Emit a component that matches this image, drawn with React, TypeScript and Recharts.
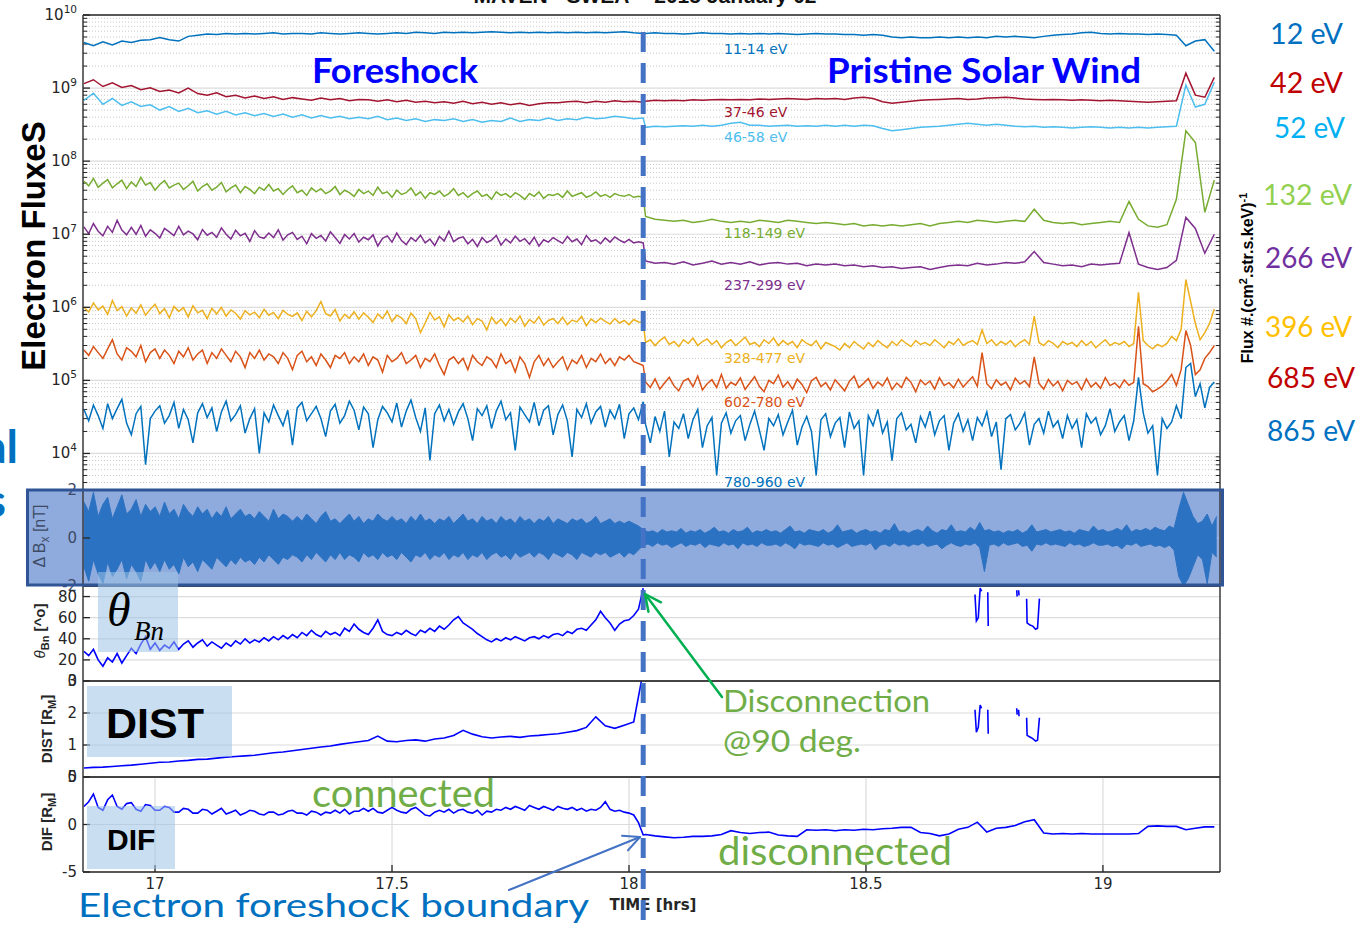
import React from 'react';
import { ComposedChart, Line, Area, XAxis, YAxis, CartesianGrid, ReferenceLine } from 'recharts';

const W = 1363;
const H = 925;
const PLOT_LEFT = 83;
const PLOT_RIGHT = 1220;
const T_START = 16.848;
const T_END = 19.247;
const X_TICKS = [17, 17.5, 18, 18.5, 19];
const BOUNDARY_T = 18.03;

const SANS = '"Liberation Sans", Arial, Helvetica, sans-serif';
const WIDE = '"DejaVu Sans", Verdana, sans-serif';
const CAL = 'Lato, "Open Sans", sans-serif';
const SERIF = '"Liberation Serif", "Times New Roman", serif';
const AXIS = '#262626';
const GRID = '#dcdcdc';

// sampling of the summary products (hrs)
const PRE_T0 = 16.85;
const POST_T0 = 18.035;
const DT = 0.02;
const DT_FINE = 0.01;

// ---- SWEA electron energy channels (pre- and post-boundary samples) ----
const F12_PRE = [
  4.2, 3.8, 4.3, 3.9, 4.4, 4.2, 4.5, 4.6, 4.9, 4.6,
  4.4, 5.1, 5.3, 5.5, 5.4, 5.6, 5.5, 5.6, 5.5, 5.6,
  5.7, 5.5, 5.6, 5.6, 5.5, 5.7, 5.6, 5.5, 5.6, 5.7,
  5.6, 5.5, 5.6, 5.7, 5.6, 5.8, 5.7, 5.6, 5.8, 5.7,
  5.8, 5.7, 5.8, 5.9, 5.8, 5.7, 5.8, 5.7, 5.8, 5.7,
  5.8, 5.7, 5.8, 5.7, 5.8, 5.7, 5.8, 5.9, 5.7, 5.6,
];
const F12_POST = [
  5.6, 5.7, 5.6, 5.6, 5.5, 5.6, 5.7, 5.6, 5.6, 5.5,
  5.6, 5.5, 5.6, 5.5, 5.6, 5.5, 5.4, 5.5, 5.6, 5.5,
  5.5, 5.4, 5.4, 5.3, 5.4, 5.3, 5.0, 4.9, 5.0, 4.9,
  4.9, 5.0, 4.9, 5.0, 4.9, 5.0, 4.9, 5.1, 5.0, 5.1,
  5.0, 4.9, 5.1, 5.3, 5.4, 5.5, 5.7, 5.8, 5.6, 5.5,
  5.6, 5.5, 5.5, 5.4, 5.5, 5.4, 5.3, 3.8, 4.4, 4.6,
  3.2,
];
const F42_PRE = [
  11.5, 13.0, 10.5, 11.8, 10.2, 10.8, 9.5, 10.1, 9.0, 9.4,
  8.6, 10.0, 8.4, 8.0, 8.6, 7.6, 8.0, 7.3, 7.8, 7.2,
  7.6, 7.0, 7.4, 7.1, 6.8, 7.3, 6.9, 7.2, 6.7, 7.0,
  6.9, 6.6, 6.9, 6.5, 6.8, 6.4, 6.6, 6.3, 6.5, 6.2,
  6.6, 6.1, 6.4, 6.0, 6.3, 5.9, 6.2, 5.8, 6.1, 6.3,
  6.3, 6.5, 6.6, 6.3, 6.6, 6.4, 6.7, 6.5, 6.6, 6.4,
];
const F42_POST = [
  6.6, 6.8, 6.7, 6.8, 6.7, 6.9, 6.8, 6.9, 7.0, 6.9,
  7.0, 6.9, 7.1, 7.0, 7.1, 7.2, 7.1, 7.0, 7.2, 7.1,
  7.2, 7.0, 7.3, 7.5, 7.2, 6.5, 6.2, 6.4, 6.6, 6.8,
  6.9, 7.0, 7.1, 7.2, 7.0, 7.1, 7.3, 7.4, 7.5, 7.3,
  7.1, 7.0, 6.9, 7.0, 6.9, 6.8, 6.9, 6.8, 6.7, 6.8,
  6.7, 6.6, 6.5, 6.4, 6.5, 6.6, 6.7, 16.0, 8.0, 7.5,
  14.0,
];
const F52_PRE = [
  6.8, 8.5, 6.0, 7.2, 5.8, 6.5, 5.6, 5.9, 5.0, 5.6,
  4.8, 5.3, 4.6, 4.9, 4.4, 4.8, 4.3, 4.6, 4.2, 4.5,
  4.1, 4.4, 4.0, 4.3, 3.9, 4.2, 3.9, 4.1, 3.8, 4.0,
  3.8, 4.1, 3.7, 3.9, 3.6, 3.8, 3.5, 3.7, 3.6, 3.8,
  3.5, 3.7, 3.4, 3.6, 3.5, 3.9, 3.5, 3.7, 3.6, 3.9,
  3.6, 3.8, 3.7, 4.0, 3.8, 3.9, 4.1, 4.0, 3.8, 3.9,
];
const F52_POST = [
  2.9, 3.0, 2.95, 3.0, 3.05, 3.0, 3.1, 3.0, 3.1, 3.3,
  3.4, 3.1, 3.1, 3.0, 3.05, 3.1, 3.0, 3.05, 3.0, 3.1,
  3.0, 3.1, 3.0, 3.1, 3.05, 2.8, 2.6, 2.7, 2.8, 2.9,
  2.95, 3.0, 3.1, 3.2, 3.3, 3.2, 3.1, 3.2, 3.1, 3.0,
  2.95, 3.0, 2.9, 2.95, 2.9, 2.85, 2.9, 2.95, 2.9, 2.85,
  2.9, 2.85, 2.9, 2.85, 2.9, 2.95, 3.0, 11.0, 5.5, 6.0,
  12.0,
];
// 118-149 eV: 0.01 h before the crossing, 0.02 h after
const F132_PRE = [
  5.3, 4.6, 5.8, 4.4, 5.0, 5.6, 4.3, 4.9, 5.5, 4.2,
  5.2, 4.5, 6.0, 4.7, 5.1, 4.0, 4.8, 5.4, 4.3, 4.7,
  5.0, 4.1, 4.6, 5.3, 3.9, 4.5, 4.9, 4.0, 4.4, 5.1,
  3.8, 4.3, 4.7, 3.7, 4.5, 4.1, 3.6, 4.4, 4.0, 4.8,
  3.9, 4.2, 3.5, 4.1, 4.6, 3.7, 4.0, 3.4, 4.3, 3.8,
  4.2, 3.6, 3.9, 4.5, 3.5, 4.0, 3.7, 3.3, 4.1, 3.6,
  3.9, 3.4, 4.4, 3.6, 3.8, 3.2, 4.0, 3.5, 3.7, 4.3,
  3.4, 3.8, 3.1, 3.7, 3.5, 3.9, 3.3, 3.6, 4.2, 3.4,
  3.7, 3.2, 3.6, 3.9, 3.3, 3.5, 3.0, 3.8, 3.4, 3.6,
  3.2, 3.7, 3.4, 3.0, 3.6, 3.3, 3.8, 3.1, 3.5, 3.4,
  3.6, 3.2, 3.9, 3.3, 3.5, 3.7, 3.2, 3.4, 3.8, 3.3,
  3.5, 3.2, 3.6, 3.4, 3.3, 3.5, 3.2, 3.3, 3.2,
];
const F132_POST = [
  1.75, 1.6, 1.55, 1.5, 1.55, 1.45, 1.5, 1.6, 1.5, 1.45,
  1.5, 1.45, 1.55, 1.5, 1.45, 1.55, 1.5, 1.45, 1.4, 1.45,
  1.4, 1.35, 1.4, 1.3, 1.35, 1.3, 1.35, 1.3, 1.35, 1.4,
  1.3, 1.4, 1.45, 1.5, 1.45, 1.55, 1.5, 1.45, 1.5, 1.55,
  1.5, 2.2, 1.55, 1.45, 1.4, 1.45, 1.35, 1.4, 1.45, 1.5,
  1.45, 2.8, 1.6, 1.3, 1.25, 1.35, 3.0, 26, 18, 2.0,
  5.5,
];
// 237-299 eV: 0.01 h before the crossing, 0.02 h after
const F266_PRE = [
  12.6, 10.2, 14.0, 11.0, 9.5, 12.8, 10.6, 15.5, 11.4, 9.8,
  12.4, 10.0, 13.2, 9.4, 11.5, 10.3, 8.9, 12.0, 10.8, 9.6,
  12.8, 9.8, 11.0, 10.1, 8.4, 11.6, 9.7, 10.6, 9.1, 12.2,
  10.0, 8.6, 11.3, 9.5, 10.3, 8.0, 11.2, 9.2, 8.8, 10.4,
  9.0, 11.5, 8.3, 9.8, 10.6, 8.5, 9.4, 7.4, 10.2, 8.8,
  9.6, 8.1, 10.8, 9.0, 7.5, 9.9, 8.6, 10.2, 7.8, 9.1,
  8.4, 9.8, 6.9, 8.8, 9.5, 7.8, 10.4, 8.2, 7.2, 9.0,
  8.0, 9.7, 7.6, 8.6, 7.0, 9.3, 8.1, 11.0, 7.9, 8.8,
  9.2, 7.4, 8.5, 6.8, 9.0, 7.7, 8.3, 9.6, 7.1, 8.6,
  7.6, 9.4, 8.0, 8.7, 7.3, 9.1, 6.9, 8.4, 7.8, 9.0,
  8.2, 7.5, 9.3, 7.9, 8.6, 7.2, 9.6, 8.0, 8.4, 7.4,
  8.9, 7.8, 9.2, 8.3, 7.7, 8.5, 7.6, 7.9, 7.6,
];
const F266_POST = [
  4.3, 4.0, 4.1, 3.9, 4.2, 3.8, 4.0, 4.3, 3.9, 4.1,
  3.9, 4.2, 3.8, 4.0, 4.1, 3.9, 4.0, 3.7, 3.9, 3.8,
  3.9, 3.7, 3.8, 3.6, 3.7, 3.5, 3.6, 3.4, 3.5, 3.6,
  3.3, 3.5, 3.7, 3.8, 3.7, 4.0, 3.8, 3.9, 4.1, 4.0,
  4.2, 5.8, 4.1, 3.9, 3.7, 3.8, 3.6, 3.9, 3.8, 3.9,
  4.0, 10.5, 3.9, 3.5, 3.3, 3.5, 4.4, 17, 12, 5.5,
  10,
];
// 328-477 eV, 602-780 eV, 780-960 eV: 0.01 h throughout
const F396_PRE = [
  10.0, 8.6, 11.5, 9.2, 10.4, 8.0, 12.4, 9.0, 10.2, 7.6,
  9.8, 8.3, 10.8, 7.8, 9.4, 11.0, 8.2, 9.6, 7.2, 10.3,
  8.8, 9.9, 7.4, 10.5, 8.4, 9.1, 7.0, 9.7, 8.1, 10.0,
  7.6, 9.2, 8.3, 6.9, 9.0, 7.9, 8.6, 7.2, 9.4, 7.8,
  8.5, 7.0, 9.1, 8.0, 7.5, 8.4, 6.6, 8.8, 7.4, 9.0,
  12.0, 8.2, 7.6, 9.3, 6.5, 8.0, 7.1, 8.7, 6.9, 8.4,
  7.3, 6.2, 8.1, 7.0, 8.9, 6.4, 7.8, 7.2, 6.0, 8.3,
  7.0, 4.5, 6.1, 8.5, 6.7, 7.4, 5.4, 7.9, 6.6, 7.2,
  6.3, 7.6, 5.8, 7.0, 6.5, 4.9, 7.3, 6.0, 6.9, 5.6,
  7.1, 6.2, 7.6, 5.5, 6.8, 6.1, 7.4, 5.7, 6.6, 7.0,
  6.0, 7.3, 5.8, 6.7, 6.3, 7.5, 5.6, 6.9, 6.2, 7.1,
  6.4, 5.9, 7.0, 6.1, 6.6, 5.8, 6.8, 6.3, 6.2,
];
const F396_POST = [
  3.3, 3.6, 3.0, 3.5, 3.9, 3.1, 3.4, 2.9, 3.6, 3.2,
  3.8, 3.0, 3.4, 3.7, 3.1, 3.5, 2.8, 3.3, 3.6, 3.0,
  3.4, 3.9, 3.1, 3.3, 2.9, 3.6, 3.2, 3.8, 3.0, 3.5,
  3.1, 3.4, 2.8, 3.6, 3.2, 3.0, 3.5, 2.7, 3.3, 3.1,
  2.9, 2.6, 3.2, 2.8, 3.4, 3.0, 2.7, 3.3, 2.9, 3.5,
  3.1, 2.8, 3.4, 3.0, 3.6, 3.2, 2.9, 3.5, 3.1, 3.3,
  3.0, 3.6, 3.2, 2.8, 3.4, 3.1, 3.7, 3.0, 3.3, 3.5,
  3.1, 4.9, 3.2, 3.6, 3.0, 3.4, 3.1, 3.5, 2.9, 3.3,
  3.6, 3.1, 7.6, 3.3, 3.0, 3.5, 3.2, 2.8, 3.4, 3.1,
  3.3, 2.9, 3.5, 3.0, 3.4, 2.8, 3.2, 3.6, 3.0, 3.3,
  3.1, 3.4, 2.9, 3.2, 16, 3.5, 3.0, 2.7, 3.1, 2.9,
  3.2, 4.0, 3.5, 5.0, 24, 12, 6.0, 3.6, 4.5, 6.0,
  9.5,
];
const F685_PRE = [
  26, 22, 29, 24, 20, 27, 36, 23, 19, 28,
  25, 21, 30, 18, 24, 27, 20, 26, 22, 17,
  25, 21, 28, 19, 23, 26, 17, 24, 20, 27,
  22, 18, 25, 21, 15, 24, 20, 26, 19, 23,
  21, 17, 24, 20, 14, 22, 25, 18, 21, 16,
  23, 19, 15, 22, 20, 24, 17, 21, 18, 23,
  16, 21, 19, 13, 22, 18, 20, 24, 17, 19,
  22, 15, 20, 18, 23, 16, 12, 19, 21, 17,
  20, 14, 22, 18, 16, 21, 19, 15, 23, 17,
  19, 13, 21, 17, 11, 18, 22, 16, 20, 15,
  18, 21, 14, 19, 17, 22, 15, 20, 18, 23,
  17, 20, 16, 21, 19, 22, 18, 17, 16,
];
const F685_POST = [
  9.5, 8.0, 10.5, 7.6, 9.2, 11.0, 8.4, 7.2, 9.8, 10.6,
  8.2, 11.5, 7.4, 9.0, 10.2, 8.0, 12.0, 7.8, 9.4, 8.6,
  10.8, 7.5, 9.2, 11.2, 8.3, 7.0, 10.0, 9.0, 11.8, 8.1,
  9.6, 7.6, 10.4, 8.8, 6.8, 9.9, 11.0, 8.2, 9.3, 7.4,
  10.2, 8.6, 7.2, 9.7, 11.4, 8.0, 9.1, 10.6, 7.8, 9.5,
  8.4, 10.8, 7.5, 9.2, 8.0, 11.0, 9.4, 7.0, 10.1, 8.7,
  9.8, 7.6, 10.9, 8.5, 9.3, 7.9, 10.4, 8.1, 9.6, 11.2,
  8.3, 24, 9.0, 7.7, 10.2, 8.6, 9.5, 7.4, 10.7, 8.9,
  9.9, 8.2, 21, 9.1, 7.6, 10.3, 8.4, 9.7, 7.2, 10.0,
  8.8, 9.6, 7.5, 10.5, 8.1, 9.3, 7.8, 10.9, 8.5, 9.2,
  7.9, 10.1, 8.6, 9.4, 55, 9.0, 8.2, 7.0, 7.6, 8.4,
  9.8, 12, 8.5, 14, 48, 30, 12, 14, 20, 24,
  30,
];
const F865_PRE = [
  40, 28, 46, 33, 22, 48, 30, 41, 55, 26,
  18, 35, 44, 7, 30, 38, 45, 26, 33, 50,
  22, 40, 29, 14, 36, 48, 31, 42, 20, 37,
  52, 28, 34, 45, 19, 30, 41, 10, 36, 27,
  46, 33, 24, 39, 13, 42, 50, 28, 35, 44,
  30, 17, 38, 47, 26, 33, 52, 39, 21, 43,
  35, 12, 29, 44, 36, 27, 49, 23, 38, 54,
  31, 20, 42, 8, 35, 46, 28, 40, 25, 37,
  48, 30, 15, 41, 33, 45, 22, 38, 52, 29,
  36, 11, 43, 34, 27, 50, 24, 39, 45, 18,
  34, 46, 28, 9, 40, 31, 48, 26, 37, 44,
  23, 39, 30, 47, 16, 35, 42, 29, 51,
];
const F865_POST = [
  25, 14, 32, 20, 38, 9, 27, 22, 35, 16,
  29, 40, 12, 24, 31, 5, 26, 36, 19, 28,
  33, 15, 25, 38, 21, 11, 30, 24, 34, 18,
  27, 39, 13, 23, 32, 20, 5, 29, 35, 17,
  26, 31, 12, 37, 22, 28, 5, 33, 24, 40,
  19, 27, 8, 30, 36, 21, 25, 14, 32, 23,
  38, 18, 28, 33, 11, 26, 35, 20, 29, 15,
  31, 24, 37, 17, 27, 6, 30, 34, 21, 26,
  36, 13, 25, 30, 19, 38, 23, 28, 16, 33,
  22, 29, 12, 35, 26, 31, 18, 24, 41, 20,
  27, 33, 15, 28, 110, 36, 19, 24, 5, 30,
  22, 27, 45, 30, 150, 170, 60, 90, 42, 80,
  95,
];

// ---- MAG: Bx fluctuation envelope per 0.01 h (upper / lower excursions, nT) ----
const BX_T0 = 16.85;
const BX_DT = 0.01;
const BX_HI = [
  1.5, 1.1, 1.9, 0.9, 1.4, 1.7, 0.8, 1.3, 1.8, 1.0, 1.2, 1.6, 0.9, 1.4, 1.1,
  1.3, 0.9, 1.5, 1.0, 1.2, 0.8, 1.4, 1.1, 0.9, 1.3,
  1.0, 1.2, 0.8, 1.1, 0.9, 1.3, 0.8, 1.0, 1.2, 0.9,
  1.0, 0.8, 1.1, 0.9, 0.7, 1.2, 0.8, 1.0, 0.9, 0.7,
  0.9, 0.7, 1.0, 0.8, 0.6, 0.9, 1.1, 0.7, 0.8, 0.6,
  0.8, 1.0, 0.7, 0.9, 0.6, 0.8, 0.7, 1.0, 0.8, 0.7,
  0.9, 0.7, 0.8, 0.6, 0.9, 0.7, 1.0, 0.7, 0.8, 0.6,
  0.8, 0.7, 0.9, 0.6, 0.8, 1.0, 0.7, 0.8, 0.6, 0.9,
  0.7, 0.8, 0.6, 0.9, 0.7, 0.8, 0.6, 0.9, 0.7, 0.8,
  0.6, 0.8, 0.7, 0.9, 0.6, 0.8, 0.7, 0.6, 0.8, 0.7,
  0.8, 0.6, 0.7, 0.9, 0.6, 0.7, 0.8, 0.6, 0.7, 0.6,
  0.7, 0.6, 0.5, 0.35, 0.25, 0.3, 0.2, 0.35, 0.25, 0.3,
  0.25, 0.4, 0.2, 0.3, 0.25, 0.35, 0.2, 0.3, 0.45, 0.25,
  0.3, 0.2, 0.35, 0.25, 0.3, 0.45, 0.2, 0.3, 0.25, 0.35,
  0.25, 0.3, 0.2, 0.35, 0.5, 0.25, 0.3, 0.2, 0.35, 0.3,
  0.25, 0.35, 0.2, 0.3, 0.55, 0.25, 0.3, 0.35, 0.2, 0.3,
  0.35, 0.25, 0.3, 0.2, 0.35, 0.3, 0.6, 0.25, 0.3, 0.2,
  0.3, 0.35, 0.25, 0.5, 0.3, 0.2, 0.35, 0.3, 0.55, 0.25,
  0.3, 0.25, 0.45, 0.3, 0.65, 0.3, 0.35, 0.25, 0.3, 0.2,
  0.3, 0.25, 0.35, 0.2, 0.3, 0.55, 0.25, 0.3, 0.35, 0.25,
  0.3, 0.35, 0.25, 0.3, 0.2, 0.35, 0.3, 0.25, 0.5, 0.3,
  0.35, 0.25, 0.3, 0.4, 0.3, 0.55, 0.25, 0.35, 0.3, 0.4,
  0.3, 0.45, 0.35, 0.3, 0.5, 0.4, 1.2, 1.9, 1.4, 0.9,
  0.6, 0.7, 1.0, 0.5, 0.9,
];
const BX_LO = [
  -1.2, -1.8, -0.9, -1.5, -1.9, -1.0, -1.6, -1.3, -0.9, -1.7, -1.1, -1.4, -1.8, -0.9, -1.3,
  -1.0, -1.4, -0.9, -1.3, -1.1, -1.5, -0.8, -1.2, -1.0, -1.4,
  -0.9, -1.1, -1.3, -0.8, -1.0, -1.2, -0.9, -1.1, -0.8, -1.0,
  -0.9, -1.1, -0.8, -1.0, -0.7, -0.9, -1.1, -0.8, -0.9, -0.7,
  -0.8, -1.0, -0.7, -0.9, -0.6, -0.8, -1.0, -0.7, -0.9, -0.6,
  -0.9, -0.7, -0.8, -1.0, -0.6, -0.8, -0.7, -0.9, -0.6, -0.8,
  -0.7, -0.9, -0.6, -0.8, -1.0, -0.7, -0.8, -0.6, -0.9, -0.7,
  -0.8, -0.6, -0.9, -0.7, -0.8, -0.6, -0.9, -0.7, -0.8, -0.6,
  -0.9, -0.7, -0.6, -0.8, -0.7, -0.9, -0.6, -0.8, -0.7, -0.6,
  -0.8, -0.6, -0.7, -0.9, -0.6, -0.7, -0.8, -0.6, -0.7, -0.9,
  -0.6, -0.7, -0.8, -0.6, -0.7, -0.6, -0.8, -0.7, -0.6, -0.8,
  -0.6, -0.7, -0.5, -0.3, -0.25, -0.35, -0.2, -0.3, -0.25, -0.4,
  -0.3, -0.2, -0.35, -0.25, -0.3, -0.2, -0.4, -0.25, -0.3, -0.35,
  -0.2, -0.3, -0.25, -0.45, -0.2, -0.3, -0.25, -0.35, -0.2, -0.3,
  -0.3, -0.25, -0.35, -0.2, -0.3, -0.45, -0.2, -0.3, -0.25, -0.3,
  -0.35, -0.2, -0.3, -0.25, -0.4, -0.3, -0.2, -0.35, -0.3, -0.25,
  -0.3, -0.2, -0.5, -0.3, -0.25, -0.35, -0.2, -0.3, -0.25, -0.35,
  -0.25, -0.3, -0.2, -0.35, -0.3, -0.25, -0.45, -0.3, -0.2, -0.3,
  -0.35, -0.25, -0.3, -0.2, -0.4, -1.4, -0.3, -0.25, -0.35, -0.2,
  -0.3, -0.25, -0.2, -0.35, -0.3, -0.55, -0.25, -0.3, -0.2, -0.3,
  -0.25, -0.3, -0.35, -0.2, -0.3, -0.25, -0.35, -0.3, -0.2, -0.3,
  -0.3, -0.25, -0.35, -0.3, -0.45, -0.25, -0.3, -0.2, -0.35, -0.3,
  -0.25, -0.35, -0.3, -0.4, -0.3, -0.5, -1.6, -2.0, -1.7, -1.2,
  -0.7, -0.9, -1.9, -0.6, -0.8,
];

// ---- shock geometry (0.01 h before the crossing) ----
const THETA_PRE = [
  28, 24, 30, 20, 14, 22, 18, 26, 17, 24,
  31, 26, 35, 42, 30, 36, 29, 34, 31, 37,
  30, 35, 38, 32, 36, 39, 33, 37, 34, 31,
  36, 33, 38, 35, 40, 36, 39, 37, 41, 38,
  42, 39, 43, 40, 44, 41, 46, 43, 48, 44,
  42, 47, 44, 46, 43, 50, 47, 54, 49, 46,
  44, 50, 58, 47, 44, 43, 46, 44, 48, 45,
  43, 48, 46, 50, 47, 52, 49, 53, 58, 61,
  55, 52, 49, 45, 42, 39, 37, 40, 38, 41,
  39, 42, 40, 38, 41, 42, 40, 43, 41, 44,
  45, 43, 47, 45, 49, 50, 48, 53, 58, 66,
  60, 55, 48, 54, 57, 58, 62, 68, 88,
];
const DIST_PRE = [
  0.28, 0.30, 0.31, 0.33, 0.35, 0.37, 0.40, 0.43, 0.46, 0.47,
  0.50, 0.52, 0.55, 0.56, 0.59, 0.62, 0.64, 0.66, 0.68, 0.72,
  0.76, 0.78, 0.82, 0.86, 0.90, 0.94, 0.97, 1.02, 1.06, 1.10,
  1.14, 1.28, 1.12, 1.10, 1.14, 1.16, 1.12, 1.19, 1.22, 1.30,
  1.46, 1.34, 1.26, 1.22, 1.25, 1.27, 1.24, 1.28, 1.30, 1.33,
  1.35, 1.40, 1.45, 1.55, 1.88, 1.60, 1.52, 1.62, 1.72, 3.3,
];
// short re-connection intervals in the solar wind
const FRAG1_T = [18.730, 18.733, 18.737, 18.741, 18.744, 18.745, 18.757, 18.758];
const THETA_FRAG1 = [82, 57, 60, 88, 85, null, 84, 52];
const DIST_FRAG1 = [2.1, 1.4, 1.55, 2.25, 2.15, null, 2.1, 1.35];
const FRAG2_T = [18.818, 18.819, 18.820, 18.822, 18.823, 18.824, 18.839, 18.840, 18.846, 18.852, 18.858, 18.862, 18.866];
const THETA_FRAG2 = [86, 80, null, 86, 81, null, 78, 55, 53, 52, 49, 50, 78];
const DIST_FRAG2 = [2.15, 1.95, null, 2.1, 1.9, null, 1.85, 1.3, 1.25, 1.2, 1.12, 1.15, 1.85];

// DIF: 0.01 h before the crossing, 0.02 h after
const DIF_PRE = [
  1.9, 2.4, 3.2, 1.8, 1.5, 2.6, 3.1, 1.9, 1.6, 2.2,
  2.3, 1.6, 1.4, 2.1, 2.0, 1.5, 1.5, 1.9, 1.8, 1.3,
  1.3, 1.7, 1.6, 1.2, 1.2, 1.6, 1.5, 1.1, 1.4, 1.7,
  1.1, 1.3, 1.5, 1.0, 1.2, 1.5, 1.4, 1.1, 1.0, 1.3,
  1.3, 1.0, 1.1, 1.4, 1.5, 1.2, 1.2, 1.0, 1.4, 1.3,
  1.0, 1.3, 1.2, 1.5, 1.2, 1.6, 1.1, 1.4, 1.4, 1.7,
  1.4, 1.7, 1.3, 1.2, 1.5, 1.8, 1.5, 1.3, 1.2, 1.6,
  1.8, 1.4, 1.0, 0.9, 1.3, 1.5, 1.3, 1.6, 1.2, 1.5,
  1.6, 1.3, 1.2, 1.5, 1.0, 1.4, 1.3, 1.6, 1.5, 1.8,
  1.6, 1.9, 1.7, 1.5, 2.0, 1.8, 1.6, 1.9, 1.7, 1.5,
  1.9, 1.7, 1.6, 1.8, 1.5, 1.7, 1.4, 1.6, 1.5, 1.8,
  2.4, 1.6, 1.4, 1.5, 1.3, 1.2, 1.0, 0.2, -1.1,
];
const DIF_POST = [
  -1.05, -1.2, -1.3, -1.4, -1.35, -1.25, -1.25, -1.2, -1.05, -0.65,
  -0.85, -0.95, -0.85, -0.8, -1.1, -1.2, -1.25, -0.55, -0.6, -0.55,
  -0.65, -0.55, -0.6, -0.5, -0.55, -0.45, -0.4, -0.3, -0.3, -0.85,
  -0.95, -1.2, -1.0, -0.5, -0.3, 0.25, -0.8, -0.4, -0.3, -0.1,
  0.3, 0.5, -0.9, -1.0, -0.95, -1.0, -0.95, -1.0, -1.0, -1.0,
  -1.0, -1.0, -0.95, -0.2, -0.15, -0.2, -0.2, -0.55, -0.4, -0.25,
  -0.25,
];

// ---- axes ----
const FLUX_MIN = 10 ** 3.5;
const FLUX_MAX = 1e10;
const FLUX_TICKS = [1e4, 1e5, 1e6, 1e7, 1e8, 1e9, 1e10];
const FLUX_MINOR = [3, 4, 5, 6, 7, 8, 9]
  .flatMap((k) => [2, 3, 4, 5, 6, 7, 8, 9].map((m) => m * 10 ** k))
  .filter((v) => v > FLUX_MIN && v < FLUX_MAX);

type Pt = { t: number; v: number | null };
const sampled = (t0: number, dt: number, vals: (number | null)[], unit = 1): Pt[] =>
  vals.map((v, i) => ({ t: t0 + i * dt, v: v === null ? null : v * unit }));
const joined = (pre: number[], post: number[], unit = 1, dtPre = DT, dtPost = DT): Pt[] => [
  ...sampled(PRE_T0, dtPre, pre, unit),
  ...sampled(POST_T0, dtPost, post, unit),
];
const paired = (ts: number[], vals: (number | null)[]): Pt[] => ts.map((t, i) => ({ t, v: vals[i] }));

const CHANNELS = [
  { name: '11-14 eV', data: joined(F12_PRE, F12_POST, 1e9), color: '#0072BD', label: 54 },
  { name: '37-46 eV', data: joined(F42_PRE, F42_POST, 1e8), color: '#A2142F', label: 117 },
  { name: '46-58 eV', data: joined(F52_PRE, F52_POST, 1e8), color: '#4DBEEE', label: 142 },
  { name: '118-149 eV', data: joined(F132_PRE, F132_POST, 1e7, DT_FINE, DT), color: '#77AC30', label: 238 },
  { name: '237-299 eV', data: joined(F266_PRE, F266_POST, 1e6, DT_FINE, DT), color: '#7E2F8E', label: 290 },
  { name: '328-477 eV', data: joined(F396_PRE, F396_POST, 1e5, DT_FINE, DT_FINE), color: '#EDB120', label: 363 },
  { name: '602-780 eV', data: joined(F685_PRE, F685_POST, 1e4, DT_FINE, DT_FINE), color: '#D95319', label: 407 },
  { name: '780-960 eV', data: joined(F865_PRE, F865_POST, 1e3, DT_FINE, DT_FINE), color: '#0072BD', label: 487 },
];

const ENERGY_TAGS = [
  { text: '12 eV', color: '#0070C0', x: 1270, y: 44, w: 73 },
  { text: '42 eV', color: '#C00000', x: 1270, y: 93, w: 73 },
  { text: '52 eV', color: '#00B0F0', x: 1274, y: 138, w: 71 },
  { text: '132 eV', color: '#92D050', x: 1263, y: 205, w: 89 },
  { text: '266 eV', color: '#7030A0', x: 1265, y: 268, w: 87 },
  { text: '396 eV', color: '#FFC000', x: 1265, y: 337, w: 87 },
  { text: '685 eV', color: '#C00000', x: 1267, y: 388, w: 88 },
  { text: '865 eV', color: '#0070C0', x: 1267, y: 441, w: 88 },
];

const BX_DATA = BX_HI.map((hi, i) => ({ t: BX_T0 + i * BX_DT, band: [BX_LO[i], hi] }));
const THETA_DATA = sampled(PRE_T0, DT_FINE, THETA_PRE);
const DIST_DATA = sampled(PRE_T0, DT, DIST_PRE);
const DIF_DATA = joined(DIF_PRE, DIF_POST, 1, DT_FINE, DT);

const xOf = (t: number) => PLOT_LEFT + ((t - T_START) / (T_END - T_START)) * (PLOT_RIGHT - PLOT_LEFT);

function PowTick({ x, y, payload }: any) {
  const exp = Math.round(Math.log10(payload.value));
  return (
    <text x={x} y={y + 5} textAnchor="end" fill={AXIS} fontFamily={WIDE} fontSize={15}>
      10<tspan dy={-7} fontSize={10.5}>{exp}</tspan>
    </text>
  );
}

// room reserved around each plot box for its tick labels
const MT = 20;
const MB = 40;
const Y_W = 40;
const Y_R = 10;
const X_TOP_H = 10;
const X_BOT_H = 30;
const TICK_FONT = { fill: AXIS, fontSize: 15, fontFamily: WIDE };

type PanelProps = {
  top: number;
  bottom: number;
  domain: [number, number];
  ticks: number[];
  log?: boolean;
  xLabels?: boolean;
  tick?: any;
  gridStroke?: string;
  children?: React.ReactNode;
};

function Panel({ top, bottom, domain, ticks, log, xLabels, tick, gridStroke, children }: PanelProps) {
  const height = bottom - top + MT + MB;
  const scale = log ? 'log' : 'linear';
  const axisLine = { stroke: AXIS, strokeWidth: 1.3 };
  return (
    <div style={{ position: 'absolute', left: 0, top: top - MT, width: W, height }}>
      <ComposedChart
        width={W}
        height={height}
        margin={{ top: MT - X_TOP_H, bottom: MB - X_BOT_H, left: PLOT_LEFT - Y_W, right: W - PLOT_RIGHT - Y_R }}
      >
        <CartesianGrid stroke={gridStroke ?? GRID} strokeWidth={1.2} />
        <XAxis
          type="number" dataKey="t" domain={[T_START, T_END]} ticks={X_TICKS} interval={0}
          allowDataOverflow height={X_BOT_H} tickSize={-7} tickMargin={xLabels ? 13 : 0}
          tick={xLabels ? TICK_FONT : false}
          axisLine={axisLine} tickLine={axisLine}
        />
        <XAxis
          xAxisId="top" orientation="top" type="number" dataKey="t" domain={[T_START, T_END]} ticks={X_TICKS}
          interval={0} allowDataOverflow height={X_TOP_H} tickSize={-7} tick={false}
          axisLine={axisLine} tickLine={axisLine}
        />
        <YAxis
          type="number" scale={scale} domain={domain} ticks={ticks} interval={0} allowDataOverflow
          width={Y_W} tickSize={-7} tickMargin={13}
          tick={tick ?? TICK_FONT}
          axisLine={axisLine} tickLine={axisLine}
        />
        <YAxis
          yAxisId="r" orientation="right" type="number" scale={scale} domain={domain} ticks={ticks}
          interval={0} allowDataOverflow width={Y_R} tickSize={-7} tick={false}
          axisLine={axisLine} tickLine={axisLine}
        />
        {children}
      </ComposedChart>
    </div>
  );
}

function Arrow({ x1, y1, x2, y2, color, width, head }: any) {
  const a = Math.atan2(y2 - y1, x2 - x1);
  const s = 0.45;
  const p1 = `${x2 - head * Math.cos(a - s)},${y2 - head * Math.sin(a - s)}`;
  const p2 = `${x2 - head * Math.cos(a + s)},${y2 - head * Math.sin(a + s)}`;
  return (
    <g stroke={color} strokeWidth={width} fill="none" strokeLinecap="round" strokeLinejoin="round">
      <line x1={x1} y1={y1} x2={x2} y2={y2} />
      <polyline points={`${p1} ${x2},${y2} ${p2}`} />
    </g>
  );
}

const VText = ({ x, y, children, ...rest }: any) => (
  <text transform={`translate(${x},${y}) rotate(-90)`} textAnchor="middle" {...rest}>
    {children}
  </text>
);

const BOX_FILL = 'rgba(157,195,230,0.55)';

export default function App() {
  const bx = xOf(BOUNDARY_T);
  return (
    <div style={{ position: 'absolute', left: 0, top: 0, width: W, height: H, overflow: 'hidden', background: '#fff' }}>
      {/* highlighted magnetometer strip */}
      <div style={{ position: 'absolute', left: 27, top: 490, width: 1196, height: 96, background: '#8FAADC' }} />

      {/* electron fluxes */}
      <Panel top={15} bottom={490} domain={[FLUX_MIN, FLUX_MAX]} ticks={FLUX_TICKS} log tick={<PowTick />}>
        {FLUX_MINOR.map((v) => (
          <ReferenceLine key={`g${v}`} y={v} stroke="#c9c9c9" strokeDasharray="1 2" strokeWidth={1} />
        ))}
        {FLUX_MINOR.map((v) => (
          <ReferenceLine key={`l${v}`} segment={[{ x: T_START, y: v }, { x: T_START + 0.009, y: v }]} stroke={AXIS} strokeWidth={1} />
        ))}
        {FLUX_MINOR.map((v) => (
          <ReferenceLine key={`r${v}`} segment={[{ x: T_END - 0.009, y: v }, { x: T_END, y: v }]} stroke={AXIS} strokeWidth={1} />
        ))}
        {CHANNELS.map((c) => (
          <Line key={c.name} data={c.data} dataKey="v" stroke={c.color} strokeWidth={1.5} dot={false} isAnimationActive={false} />
        ))}
      </Panel>

      {/* delta Bx */}
      <Panel
        top={490} bottom={586} domain={[-2, 2]} ticks={[-2, 0, 2]} gridStroke="rgba(255,255,255,0.25)"
        tick={{ ...TICK_FONT, fill: '#3c4a66' }}
      >
        <Area data={BX_DATA} dataKey="band" stroke="#2C72C2" strokeWidth={1} fill="#2C72C2" fillOpacity={1} isAnimationActive={false} />
      </Panel>

      {/* theta Bn */}
      <Panel top={586} bottom={681} domain={[0, 90]} ticks={[0, 20, 40, 60, 80]}>
        <Line data={THETA_DATA} dataKey="v" stroke="#0000FF" strokeWidth={1.6} dot={false} isAnimationActive={false} />
        <Line data={paired(FRAG1_T, THETA_FRAG1)} dataKey="v" stroke="#0000FF" strokeWidth={1.6} dot={false} isAnimationActive={false} />
        <Line data={paired(FRAG2_T, THETA_FRAG2)} dataKey="v" stroke="#0000FF" strokeWidth={1.6} dot={false} isAnimationActive={false} />
      </Panel>

      {/* distance to shock */}
      <Panel top={681} bottom={777} domain={[0, 3]} ticks={[0, 1, 2, 3]}>
        <Line data={DIST_DATA} dataKey="v" stroke="#0000FF" strokeWidth={1.6} dot={false} isAnimationActive={false} />
        <Line data={paired(FRAG1_T, DIST_FRAG1)} dataKey="v" stroke="#0000FF" strokeWidth={1.6} dot={false} isAnimationActive={false} />
        <Line data={paired(FRAG2_T, DIST_FRAG2)} dataKey="v" stroke="#0000FF" strokeWidth={1.6} dot={false} isAnimationActive={false} />
      </Panel>

      {/* DIF */}
      <Panel top={777} bottom={872} domain={[-5, 5]} ticks={[-5, 0, 5]} xLabels>
        <Line data={DIF_DATA} dataKey="v" stroke="#0000FF" strokeWidth={1.6} dot={false} isAnimationActive={false} />
      </Panel>

      <svg width={W} height={H} style={{ position: 'absolute', left: 0, top: 0, pointerEvents: 'none' }}>
        <text x={645} y={3} textAnchor="middle" fontFamily={SANS} fontWeight="bold" fontSize={21} fill="#111">
          MAVEN - SWEA -- 2015 January 02
        </text>

        <text x={18} y={463} textAnchor="end" fontFamily={CAL} fontWeight="bold" fontSize={46} fill="#0070C0">al</text>
        <text x={6} y={517} textAnchor="end" fontFamily={CAL} fontWeight="bold" fontSize={46} fill="#0070C0">s</text>

        <VText x={45} y={246} fontFamily={SANS} fontWeight="bold" fontSize={33} fill="#000">Electron FluxeS</VText>
        <VText x={1253} y={278} fontFamily={SANS} fontWeight="bold" fontSize={16} fill="#000">
          Flux #.(cm<tspan dy={-6} fontSize={11}>2</tspan><tspan dy={6}>.str.s.keV)</tspan>
          <tspan dy={-6} fontSize={11}>-1</tspan>
        </VText>

        {/* channel names */}
        {CHANNELS.map((c) => (
          <text key={c.name} x={724} y={c.label} fontFamily={WIDE} fontSize={14} fill={c.color}>{c.name}</text>
        ))}

        {ENERGY_TAGS.map((e) => (
          <text key={e.text} x={e.x} y={e.y} fontFamily={CAL} fontSize={28} fill={e.color} textLength={e.w} lengthAdjust="spacingAndGlyphs">
            {e.text}
          </text>
        ))}

        <text x={312} y={83} fontFamily={CAL} fontWeight="bold" fontSize={34} fill="#0000FF" textLength={166} lengthAdjust="spacingAndGlyphs">Foreshock</text>
        <text x={827} y={83} fontFamily={CAL} fontWeight="bold" fontSize={35} fill="#0000FF" textLength={314} lengthAdjust="spacingAndGlyphs">Pristine Solar Wind</text>

        {/* panel labels */}
        <VText x={45} y={536} fontFamily={SANS} fontSize={16} fill="#3c4a66">
          Δ B<tspan dy={4} fontSize={12}>x</tspan><tspan dy={-4}> [nT]</tspan>
        </VText>
        <VText x={45} y={631} fontFamily={SANS} fontSize={15} fill={AXIS}>
          <tspan fontStyle="italic">θ</tspan><tspan dy={4} fontSize={11} fontWeight="bold">Bn</tspan>
          <tspan dy={-4} fontWeight="bold"> [^o]</tspan>
        </VText>
        <VText x={52} y={729} fontFamily={SANS} fontSize={15} fontWeight="bold" fill={AXIS}>
          DIST [R<tspan dy={4} fontSize={11}>M</tspan><tspan dy={-4}>]</tspan>
        </VText>
        <VText x={52} y={822} fontFamily={SANS} fontSize={15} fontWeight="bold" fill={AXIS}>
          DIF [R<tspan dy={4} fontSize={11}>M</tspan><tspan dy={-4}>]</tspan>
        </VText>
        <text x={653} y={910} textAnchor="middle" fontFamily={WIDE} fontWeight="bold" fontSize={15} fill={AXIS}>TIME [hrs]</text>

        {/* magnetometer strip outline */}
        <rect x={27.5} y={490} width={1195} height={95} fill="none" stroke="#2F5597" strokeWidth={3} />

        {/* label boxes */}
        <rect x={98} y={572} width={80} height={80} fill={BOX_FILL} />
        <text x={107} y={626} fontFamily={SERIF} fontStyle="italic" fontSize={48} fill="#000">θ</text>
        <text x={134} y={640} fontFamily={SERIF} fontStyle="italic" fontSize={27} fill="#000">Bn</text>
        <rect x={87} y={686} width={145} height={71} fill={BOX_FILL} />
        <text x={106} y={738} fontFamily={SANS} fontWeight="bold" fontSize={43} fill="#000">DIST</text>
        <rect x={87} y={806} width={88} height={63} fill={BOX_FILL} />
        <text x={107} y={850} fontFamily={SANS} fontWeight="bold" fontSize={30} fill="#000">DIF</text>

        {/* foreshock boundary crossing */}
        <line x1={bx} x2={bx} y1={32} y2={H} stroke="#4472C4" strokeWidth={5} strokeDasharray="20 11" />

        <Arrow x1={722} y1={697} x2={645} y2={594} color="#00B050" width={2.5} head={18} />
        <text x={723} y={712} fontFamily={CAL} fontSize={30} fill="#70AD47" textLength={207} lengthAdjust="spacingAndGlyphs">Disconnection</text>
        <text x={723} y={752} fontFamily={CAL} fontSize={30} fill="#70AD47" textLength={138} lengthAdjust="spacingAndGlyphs">@90 deg.</text>
        <text x={312} y={807} fontFamily={CAL} fontSize={38} fill="#70AD47" textLength={183} lengthAdjust="spacingAndGlyphs">connected</text>
        <text x={718} y={865} fontFamily={CAL} fontSize={38} fill="#70AD47" textLength={234} lengthAdjust="spacingAndGlyphs">disconnected</text>

        <Arrow x1={509} y1={890} x2={640} y2={837} color="#4472C4" width={2} head={18} />
        <text x={78} y={917} fontFamily={CAL} fontSize={32} fill="#0070C0" textLength={511} lengthAdjust="spacingAndGlyphs">
          Electron foreshock boundary
        </text>
      </svg>
    </div>
  );
}
